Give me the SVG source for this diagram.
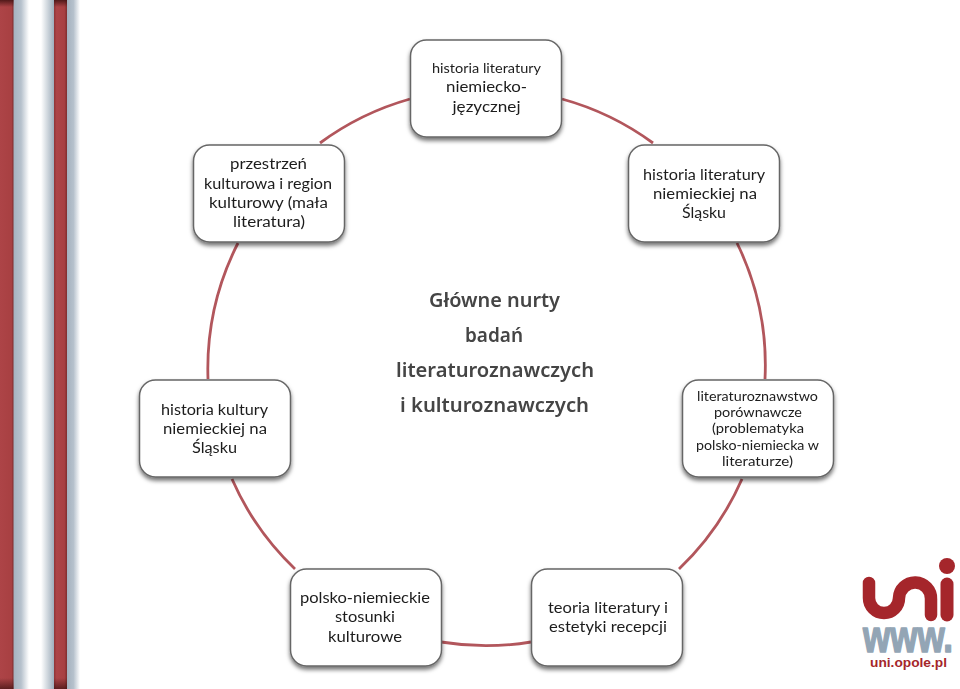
<svg xmlns="http://www.w3.org/2000/svg" width="960" height="689" viewBox="0 0 960 689">
<defs>
<linearGradient id="g1" x1="0" x2="1" y1="0" y2="0"><stop offset="0" stop-color="#a4b1be"/><stop offset=".5" stop-color="#b6c1cc"/><stop offset="1" stop-color="#fff"/></linearGradient>
<linearGradient id="g2" x1="0" x2="1" y1="0" y2="0"><stop offset="0" stop-color="#fff"/><stop offset=".6" stop-color="#c5ced6"/><stop offset="1" stop-color="#9faebc"/></linearGradient>
<linearGradient id="red" x1="0" x2="1" y1="0" y2="0"><stop offset="0" stop-color="#8f3436"/><stop offset=".2" stop-color="#ad4447"/><stop offset=".8" stop-color="#a84042"/><stop offset="1" stop-color="#7f2d2e"/></linearGradient>
<linearGradient id="red0" x1="0" x2="1" y1="0" y2="0"><stop offset="0" stop-color="#ad4447"/><stop offset=".85" stop-color="#a84042"/><stop offset="1" stop-color="#7f2d2e"/></linearGradient>
<linearGradient id="top" x1="0" x2="0" y1="0" y2="1"><stop offset="0" stop-color="#3a0f0f" stop-opacity=".8"/><stop offset="1" stop-color="#3a0f0f" stop-opacity="0"/></linearGradient>
<linearGradient id="bot" x1="0" x2="0" y1="0" y2="1"><stop offset="0" stop-color="#3a0f0f" stop-opacity="0"/><stop offset="1" stop-color="#3a0f0f" stop-opacity=".7"/></linearGradient>
<filter id="sh" x="-10%" y="-10%" width="120%" height="125%"><feDropShadow dx="0" dy="3" stdDeviation="2.2" flood-color="#000" flood-opacity=".55"/></filter>
<filter id="soft" x="-5%" y="-20%" width="110%" height="140%"><feGaussianBlur stdDeviation=".35"/></filter>
<style>
.box{fill:#fff;stroke:#666;stroke-width:1.5;filter:url(#sh)}
.t{font-family:Lato,"Liberation Sans",sans-serif;font-size:15.5px;fill:#1c1c1c;text-anchor:middle;filter:url(#soft)}
.s{font-size:13px}
.c{font-family:"Noto Sans","DejaVu Sans",sans-serif;font-size:19px;font-weight:600;fill:#444;text-anchor:middle;filter:url(#soft)}
.a{fill:none;stroke:#b2565c;stroke-width:2.8}
</style>
</defs>
<rect width="960" height="689" fill="#fff"/>
<g id="stripes">
<rect x="13" y="0" width="16" height="689" fill="url(#g1)"/>
<rect x="41" y="0" width="13" height="689" fill="url(#g2)"/>
<rect x="67" y="0" width="13" height="689" fill="url(#g1)"/>
<rect x="0" y="0" width="13.500" height="689" fill="url(#red0)"/>
<rect x="54" y="0" width="13" height="689" fill="url(#red)"/>
<rect x="0" y="0" width="13.500" height="7" fill="url(#top)"/>
<rect x="54" y="0" width="13" height="7" fill="url(#top)"/>
<rect x="0" y="678" width="13.500" height="11" fill="url(#bot)"/>
<rect x="54" y="678" width="13" height="11" fill="url(#bot)"/>
</g>
<g id="connectors">
<path class="a" d="M320 143A278.500 278.500 0 0 1 410 99"/>
<path class="a" d="M562 99A278.500 278.500 0 0 1 653 143"/>
<path class="a" d="M737 243A278.500 278.500 0 0 1 765 379"/>
<path class="a" d="M742 479A278.500 278.500 0 0 1 679 569"/>
<path class="a" d="M531 642A278.500 278.500 0 0 1 441 642"/>
<path class="a" d="M295 569A278.500 278.500 0 0 1 232 479"/>
<path class="a" d="M208 379A278.500 278.500 0 0 1 238 243"/>
</g>
<g id="node-1"><rect class="box" x="410.500" y="40" width="151" height="97" rx="16"/>
<text class="t s" x="486.500" y="73" textLength="109" lengthAdjust="spacingAndGlyphs">historia literatury</text>
<text class="t" x="486.500" y="92" textLength="81" lengthAdjust="spacingAndGlyphs">niemiecko-</text>
<text class="t" x="486.500" y="112" textLength="68" lengthAdjust="spacingAndGlyphs">języcznej</text></g>
<g id="node-2"><rect class="box" x="628.500" y="145" width="151" height="97" rx="16"/>
<text class="t" x="704" y="180" textLength="122" lengthAdjust="spacingAndGlyphs">historia literatury</text>
<text class="t" x="705" y="199" textLength="104" lengthAdjust="spacingAndGlyphs">niemieckiej na</text>
<text class="t" x="704" y="218" textLength="44" lengthAdjust="spacingAndGlyphs">Śląsku</text></g>
<g id="node-3"><rect class="box" x="682.500" y="380" width="151" height="97" rx="16"/>
<text class="t s" x="757.500" y="401" textLength="121" lengthAdjust="spacingAndGlyphs">literaturoznawstwo</text>
<text class="t s" x="758" y="417" textLength="88" lengthAdjust="spacingAndGlyphs">porównawcze</text>
<text class="t s" x="758" y="433" textLength="92" lengthAdjust="spacingAndGlyphs">(problematyka</text>
<text class="t s" x="757.500" y="450" textLength="123" lengthAdjust="spacingAndGlyphs">polsko-niemiecka w</text>
<text class="t s" x="757.500" y="466" textLength="71" lengthAdjust="spacingAndGlyphs">literaturze)</text></g>
<g id="node-4"><rect class="box" x="531.500" y="569" width="151" height="97" rx="16"/>
<text class="t" x="608" y="613" textLength="120" lengthAdjust="spacingAndGlyphs">teoria literatury i</text>
<text class="t" x="608" y="632" textLength="118" lengthAdjust="spacingAndGlyphs">estetyki recepcji</text></g>
<g id="node-5"><rect class="box" x="290.500" y="569" width="151" height="97" rx="16"/>
<text class="t" x="365" y="603" textLength="130" lengthAdjust="spacingAndGlyphs">polsko-niemieckie</text>
<text class="t" x="365" y="622" textLength="60" lengthAdjust="spacingAndGlyphs">stosunki</text>
<text class="t" x="365" y="642" textLength="74" lengthAdjust="spacingAndGlyphs">kulturowe</text></g>
<g id="node-6"><rect class="box" x="139.500" y="380" width="151" height="97" rx="16"/>
<text class="t" x="214.500" y="415" textLength="107" lengthAdjust="spacingAndGlyphs">historia kultury</text>
<text class="t" x="215" y="434" textLength="104" lengthAdjust="spacingAndGlyphs">niemieckiej na</text>
<text class="t" x="214.500" y="453" textLength="45" lengthAdjust="spacingAndGlyphs">Śląsku</text></g>
<g id="node-7"><rect class="box" x="193.500" y="145" width="151" height="97" rx="16"/>
<text class="t" x="268.500" y="169" textLength="77" lengthAdjust="spacingAndGlyphs">przestrzeń</text>
<text class="t" x="268" y="189" textLength="128" lengthAdjust="spacingAndGlyphs">kulturowa i region</text>
<text class="t" x="268.500" y="208" textLength="119" lengthAdjust="spacingAndGlyphs">kulturowy (mała</text>
<text class="t" x="269" y="227" textLength="72" lengthAdjust="spacingAndGlyphs">literatura)</text></g>
<g id="title">
<text class="c" x="494.500" y="307" textLength="131" lengthAdjust="spacingAndGlyphs">Główne nurty</text>
<text class="c" x="494" y="342" textLength="58" lengthAdjust="spacingAndGlyphs">badań</text>
<text class="c" x="495" y="377" textLength="198" lengthAdjust="spacingAndGlyphs">literaturoznawczych</text>
<text class="c" x="494.500" y="412" textLength="189" lengthAdjust="spacingAndGlyphs">i kulturoznawczych</text>
</g>
<g id="logo">
<path d="M869 583V598A15 15 0 0 0 899 598A16 16 0 0 1 931 599V615" fill="none" stroke="#a5262b" stroke-width="12.500" stroke-linecap="round"/>
<path d="M947 584V615" fill="none" stroke="#a5262b" stroke-width="13" stroke-linecap="round"/>
<circle cx="947" cy="566" r="8" fill="#a5262b"/>
<text transform="translate(863 652) scale(1 1.3)" x="0" y="0" font-family="Liberation Sans,sans-serif" font-weight="700" font-size="34" fill="#93a5b5" stroke="#93a5b5" stroke-width="1.2" stroke-linejoin="round" textLength="90" lengthAdjust="spacingAndGlyphs">www.</text>
<text x="870" y="667" font-family="Liberation Sans,sans-serif" font-weight="700" font-size="13" fill="#a5262b" textLength="77" lengthAdjust="spacingAndGlyphs">uni.opole.pl</text>
</g>
</svg>
